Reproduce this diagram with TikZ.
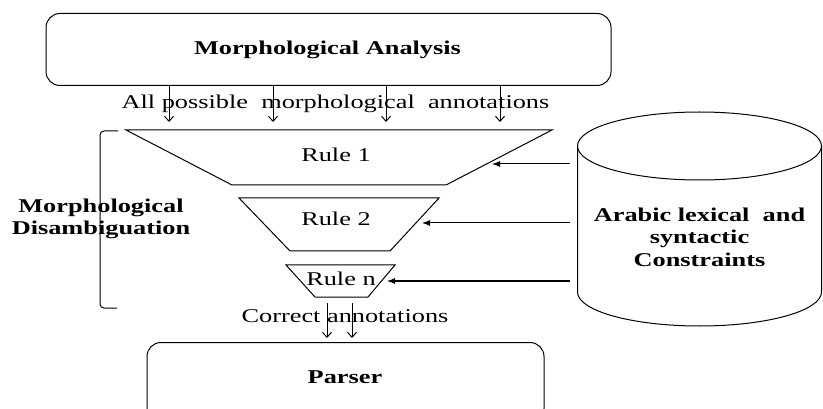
\documentclass[tikz,border=0pt]{standalone}
\usepackage{fontspec}
\setmainfont{Liberation Serif}[FakeStretch=1.35]
\usetikzlibrary{arrows.meta,calc}
\begin{document}
\begin{tikzpicture}[x=1pt,y=-1pt, line width=1pt,
  lbl/.style={font=\fontsize{19.5}{22.5}\selectfont, inner sep=0pt},
  blbl/.style={inner sep=0pt, font=\fontsize{19.5}{22.5}\selectfont\bfseries},
  box/.style={draw, rounded corners=14pt, inner sep=0pt},
  darr/.style={-{Straight Barb[length=5pt,width=9pt]}},
  larr/.style={-{Latex[length=8pt,width=6pt]}}]
\useasboundingbox (0,0) rectangle (823,409);
% top box
\node[box, minimum width=565pt, minimum height=72pt] (ma) at (328.5,49.5) {};
\node[blbl] (mat) at (327.5,50) {Morphological Analysis};
\node[lbl] (apl) at (335.5,104) {All possible~~morphological~~annotations};
% trapezoids
\coordinate (t1a) at (126,130); \coordinate (t1b) at (552,130);
\coordinate (t1c) at (446,185); \coordinate (t1d) at (232,185);
\draw (t1a) -- (t1b) -- (t1c) -- (t1d) -- cycle;
\node[lbl] (r1) at (336,155) {Rule 1};
\coordinate (t2a) at (239,198); \coordinate (t2b) at (439,198);
\coordinate (t2c) at (390,251); \coordinate (t2d) at (290,251);
\draw (t2a) -- (t2b) -- (t2c) -- (t2d) -- cycle;
\node[lbl] (r2) at (336,219) {Rule 2};
\coordinate (t3a) at (286,265); \coordinate (t3b) at (395,265);
\coordinate (t3c) at (368,297); \coordinate (t3d) at (315,297);
\draw (t3a) -- (t3b) -- (t3c) -- (t3d) -- cycle;
\node[lbl] (rn) at (341,279) {Rule n};
% down arrows from analysis
\foreach \x [count=\i] in {169,273,386,500} {
  \coordinate (d\i) at (\x,122);
  \draw[darr] (ma.south -| d\i) -- (d\i);
}
% bracket and label
\node[blbl, align=center] (md) at (101,219) {Morphological\\Disambiguation};
\draw[rounded corners=4pt] (118,131) -- (100,131) -- (100,308) -- (117,308);
% cylinder
\draw (577.5,146) -- (577.5,292) arc[start angle=180, end angle=0, x radius=122, y radius=34] -- (821.5,146);
\draw (699.5,146) ellipse[x radius=122, y radius=34];
\node[blbl, align=center] (cy) at (699.5,237) {Arabic lexical\ \ and\\syntactic\\Constraints};
% arrows from cylinder
\coordinate (c1) at (570,164); \coordinate (e1) at (492,164);
\coordinate (c2) at (570,223); \coordinate (e2) at (422,223);
\coordinate (c3) at (570,281); \coordinate (e3) at (387,281);
\draw[larr] (c1) -- (e1);
\draw[larr] (c2) -- (e2);
\draw[larr] (c3) -- (e3);
% bottom
\node[lbl] (ca) at (345,316) {Correct annotations};
\node[box, minimum width=397pt, minimum height=80pt, anchor=north] (pa) at (345.5,342) {};
\node[blbl] (pat) at (345,377) {Parser};
\coordinate (b1) at (327,303); \coordinate (b2) at (352,303);
\draw[darr, shorten >=4pt] (b1) -- (pa.north -| b1);
\draw[darr, shorten >=4pt] (b2) -- (pa.north -| b2);
\end{tikzpicture}
\end{document}
